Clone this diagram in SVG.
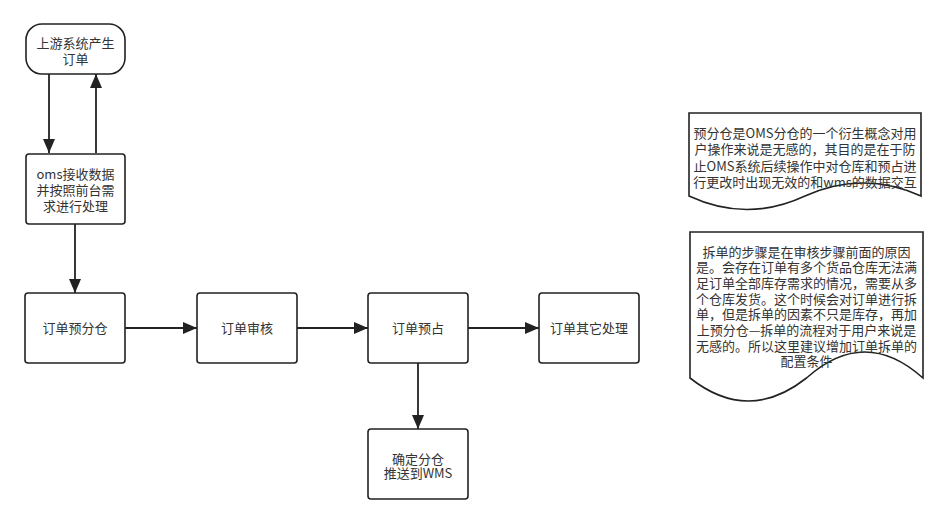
<svg xmlns="http://www.w3.org/2000/svg" width="947" height="525" viewBox="0 0 947 525">
<defs>
<style>
.box{fill:#fff;stroke:#222;stroke-width:1.6}
.t{font-family:"Noto Sans CJK SC","Liberation Sans",sans-serif;font-size:13px;fill:#333;text-anchor:middle}
.c{stroke:#222;stroke-width:1.8;fill:none}
</style>
<marker id="ah" viewBox="0 0 14 12" refX="14" refY="6" markerWidth="14" markerHeight="12" markerUnits="userSpaceOnUse" orient="auto">
<path d="M0,0 L14,6 L0,12 Z" fill="#222"/>
</marker>
</defs>
<rect width="947" height="525" fill="#fff"/>
<g id="connectors">
<line class="c" x1="49" y1="74" x2="49" y2="153" marker-end="url(#ah)"/>
<line class="c" x1="96" y1="153" x2="96" y2="74" marker-end="url(#ah)"/>
<line class="c" x1="75" y1="224" x2="75" y2="293" marker-end="url(#ah)"/>
<line class="c" x1="125" y1="328" x2="197" y2="328" marker-end="url(#ah)"/>
<line class="c" x1="297" y1="328" x2="368" y2="328" marker-end="url(#ah)"/>
<line class="c" x1="468" y1="328" x2="539" y2="328" marker-end="url(#ah)"/>
<line class="c" x1="418" y1="363" x2="418" y2="429" marker-end="url(#ah)"/>
</g>
<g id="upstream">
<rect class="box" x="26" y="24" width="99" height="50" rx="16"/>
<text class="t" x="75.5" y="48">上游系统产生</text>
<text class="t" x="75.5" y="64">订单</text>
</g>
<g id="oms">
<rect class="box" x="26" y="154" width="99" height="70" rx="3"/>
<text class="t" x="75.5" y="179">oms接收数据</text>
<text class="t" x="75.5" y="195">并按照前台需</text>
<text class="t" x="75.5" y="211">求进行处理</text>
</g>
<g id="presplit">
<rect class="box" x="25" y="293" width="100" height="70" rx="3"/>
<text class="t" x="75" y="333">订单预分仓</text>
</g>
<g id="audit">
<rect class="box" x="197" y="293" width="100" height="70" rx="3"/>
<text class="t" x="247" y="333">订单审核</text>
</g>
<g id="reserve">
<rect class="box" x="368" y="293" width="100" height="70" rx="3"/>
<text class="t" x="418" y="333">订单预占</text>
</g>
<g id="other">
<rect class="box" x="539" y="293" width="100" height="70" rx="3"/>
<text class="t" x="589" y="333">订单其它处理</text>
</g>
<g id="confirm">
<rect class="box" x="368" y="429" width="100" height="70" rx="3"/>
<text class="t" x="418" y="463.5">确定分仓</text>
<text class="t" x="418" y="478">推送到WMS</text>
</g>
<g id="note1">
<path class="box" d="M689,113 L921,113 L921,196 Q863,170 805,196 Q747,223 689,196 Z"/>
<text class="t" x="805" y="137.5">预分仓是OMS分仓的一个衍生概念对用</text>
<text class="t" x="805" y="154">户操作来说是无感的，其目的是在于防</text>
<text class="t" x="805" y="170.5">止OMS系统后续操作中对仓库和预占进</text>
<text class="t" x="805" y="187">行更改时出现无效的和wms的数据交互</text>
</g>
<g id="note2">
<path class="box" d="M690,232 L923,232 L923,378 Q864.75,326 806.5,378 Q748.25,424 690,378 Z"/>
<text class="t" x="806.5" y="256.5">拆单的步骤是在审核步骤前面的原因</text>
<text class="t" x="806.5" y="272.2">是。会存在订单有多个货品仓库无法满</text>
<text class="t" x="806.5" y="287.9">足订单全部库存需求的情况，需要从多</text>
<text class="t" x="806.5" y="303.6">个仓库发货。这个时候会对订单进行拆</text>
<text class="t" x="806.5" y="319.3">单，但是拆单的因素不只是库存，再加</text>
<text class="t" x="806.5" y="335">上预分仓—拆单的流程对于用户来说是</text>
<text class="t" x="806.5" y="350.7">无感的。所以这里建议增加订单拆单的</text>
<text class="t" x="806.5" y="366.4">配置条件</text>
</g>
</svg>
